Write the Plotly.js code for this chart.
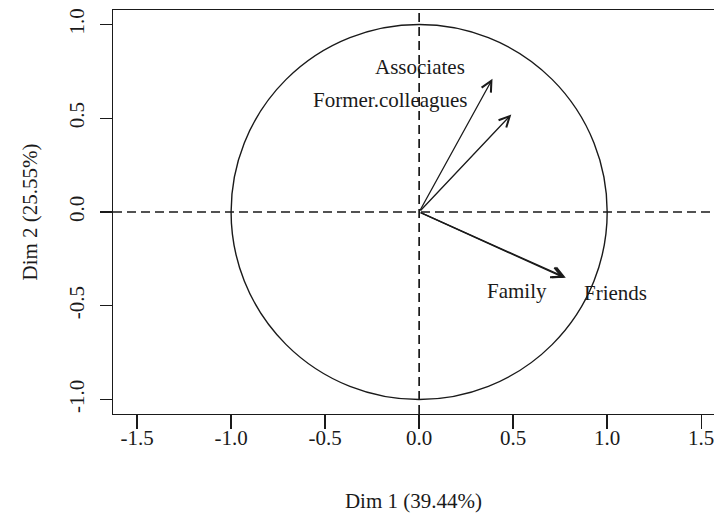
<!DOCTYPE html>
<html>
<head>
<meta charset="utf-8">
<script src="https://cdn.plot.ly/plotly-3.0.1.min.js"></script>
<style>html,body{margin:0;padding:0;background:#fff;}#chart{width:714px;height:519px;}</style>
</head>
<body>
<div id="chart"></div>
<script>
// Variables (PCA correlation circle)
const variables = ["Associates", "Former.colleagues", "Family", "Friends"];
const dim1 = [0.39, 0.49, 0.77, 0.78];
const dim2 = [0.71, 0.52, -0.35, -0.35];
const xTicks = [-1.5, -1.0, -0.5, 0.0, 0.5, 1.0, 1.5];
const yTicks = [-1.0, -0.5, 0.0, 0.5, 1.0];
const xTitle = "Dim 1 (39.44%)";
const yTitle = "Dim 2 (25.55%)";

// label placement (layout, not data)
const labelPlace = [[0.004, 0.772], [-0.152, 0.597], [0.522, -0.423], [1.046, -0.430]];

const ink = "#1a1a1a";
const font = {family: "Liberation Serif, Times New Roman, serif", size: 21, color: ink};

const annotations = [];
variables.forEach((v, i) => {
  annotations.push({
    x: dim1[i], y: dim2[i], xref: "x", yref: "y",
    ax: 0, ay: 0, axref: "x", ayref: "y",
    showarrow: true, arrowhead: 5, arrowsize: 1.6, arrowwidth: 1.3,
    arrowcolor: ink, text: ""
  });
});
variables.forEach((v, i) => {
  annotations.push({
    x: labelPlace[i][0], y: labelPlace[i][1], xref: "x", yref: "y",
    text: v, showarrow: false, font: font, xanchor: "center", yanchor: "middle"
  });
});

const layout = {
  width: 714, height: 519,
  margin: {l: 113, r: 0, t: 10, b: 105},
  paper_bgcolor: "#fff", plot_bgcolor: "#fff",
  showlegend: false,
  font: font,
  xaxis: {
    range: [-1.628, 1.568], tickvals: xTicks, ticktext: xTicks.map(t => t.toFixed(1)),
    showgrid: false, zeroline: false, showline: true, mirror: true,
    linecolor: ink, linewidth: 1.4, ticks: "outside", ticklen: 14, tickwidth: 1.4, tickcolor: ink,
    tickfont: font, ticklabelstandoff: -10, ticklabeloverflow: "allow",
    title: {text: xTitle, font: font, standoff: 44}
  },
  yaxis: {
    range: [-1.077, 1.077], tickvals: yTicks, ticktext: yTicks.map(t => t.toFixed(1)),
    showgrid: false, zeroline: false, showline: true, mirror: false,
    linecolor: ink, linewidth: 1.4, ticks: "outside", ticklen: 12, tickwidth: 1.4, tickcolor: ink,
    tickfont: font, tickangle: -90, ticklabelstandoff: 7, ticklabeloverflow: "allow",
    title: {text: yTitle, font: font, standoff: 22}
  },
  shapes: [
    {type: "circle", xref: "x", yref: "y", x0: -1, x1: 1, y0: -1, y1: 1, line: {color: ink, width: 1.4}},
    {type: "line", xref: "paper", yref: "y", x0: 0, x1: 1, y0: 0, y1: 0, line: {color: ink, width: 1.7, dash: "9px,5px"}},
    {type: "line", xref: "x", yref: "paper", x0: 0, x1: 0, y0: 0, y1: 1, line: {color: ink, width: 1.7, dash: "9px,5px"}}
  ],
  annotations: annotations
};

Plotly.newPlot("chart", [{x: dim1, y: dim2, type: "scatter", mode: "markers", marker: {size: 0, opacity: 0}, hoverinfo: "skip"}], layout, {displayModeBar: false, staticPlot: true});
</script>
</body>
</html>
